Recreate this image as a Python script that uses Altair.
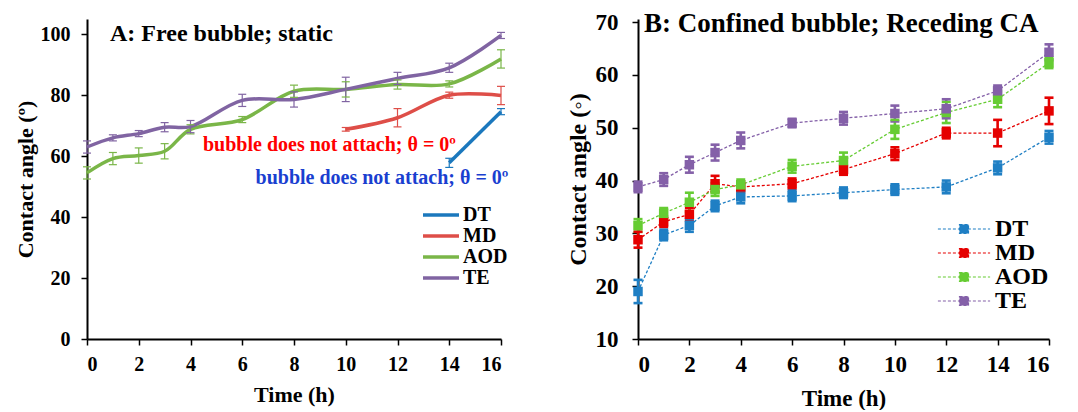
import altair as alt
import pandas as pd

FONT = "Liberation Serif"
series = ["DT", "MD", "AOD", "TE"]
hours = [0, 1, 2, 3, 4, 6, 8, 10, 12, 14, 16]

# ---------- Panel A: free bubble, static ----------
a_dt_hours = [14, 16]
a_dt = [57.8, 74.6]
a_dt_err = [1.5, 1.0]
a_md_hours = [10, 12, 14, 16]
a_md = [68.8, 72.6, 80.0, 79.9]
a_md_err = [0.6, 3.0, 1.0, 3.0]
a_aod = [54.5, 59.2, 60.2, 61.6, 68.8, 72.0, 81.3, 81.9, 83.5, 83.7, 91.9]
a_aod_err = [2.0, 2.0, 2.5, 2.5, 1.5, 1.0, 2.0, 2.5, 1.5, 1.0, 3.0]
a_te = [63.0, 66.0, 67.4, 69.5, 69.7, 78.3, 78.6, 81.9, 85.5, 89.0, 99.6]
a_te_err = [2.0, 1.0, 1.0, 1.5, 2.0, 2.0, 2.5, 4.0, 2.0, 1.5, 1.0]
colors_a = ["#1b78bd", "#de4e48", "#7ab648", "#8064a2"]

# ---------- Panel B: confined bubble, receding CA ----------
b_dt = [19.0, 29.7, 31.5, 35.2, 36.9, 37.1, 37.7, 38.3, 38.8, 42.4, 48.2]
b_dt_err = [2.2, 1.0, 1.2, 1.0, 1.2, 1.0, 1.0, 1.0, 1.2, 1.2, 1.2]
b_md = [28.8, 32.2, 33.6, 39.4, 38.8, 39.4, 42.1, 45.1, 49.0, 49.0, 53.2]
b_md_err = [1.5, 1.0, 1.2, 1.5, 1.0, 1.0, 1.0, 1.2, 1.0, 2.5, 2.5]
b_aod = [31.5, 33.8, 35.9, 38.3, 39.2, 42.7, 43.8, 49.7, 52.9, 55.4, 62.3]
b_aod_err = [1.2, 1.0, 1.8, 1.2, 1.0, 1.2, 1.5, 1.8, 2.0, 1.5, 1.0]
b_te = [38.8, 40.2, 43.0, 45.3, 47.6, 50.9, 51.8, 52.7, 53.6, 57.0, 64.3]
b_te_err = [1.0, 1.2, 1.5, 1.5, 1.5, 0.8, 1.2, 1.5, 1.8, 1.0, 1.5]
colors_b = ["#1f7fc4", "#e50000", "#66cc33", "#8460a8"]

# annotations
title_a = "A: Free bubble; static"
title_b = "B: Confined bubble; Receding CA"
note_text = "bubble does not attach; \u03b8 = 0\u00ba"


def frame(hrs, vals, errs, name):
    return pd.DataFrame({"hour": hrs, "angle": vals, "err": errs, "series": name})


dfa = pd.concat([
    frame(a_dt_hours, a_dt, a_dt_err, "DT"),
    frame(a_md_hours, a_md, a_md_err, "MD"),
    frame(hours, a_aod, a_aod_err, "AOD"),
    frame(hours, a_te, a_te_err, "TE"),
])
dfb = pd.concat([
    frame(hours, b_dt, b_dt_err, "DT"),
    frame(hours, b_md, b_md_err, "MD"),
    frame(hours, b_aod, b_aod_err, "AOD"),
    frame(hours, b_te, b_te_err, "TE"),
])
for d in (dfa, dfb):
    d["lo"] = d["angle"] - d["err"]
    d["hi"] = d["angle"] + d["err"]

notes_a = pd.DataFrame({
    "hour": [9.37, 11.4],
    "angle": [63.6, 52.8],
    "text": [note_text, note_text],
    "c": ["#ff0000", "#1a3fd0"],
})
title_a_df = pd.DataFrame({"hour": [0.89], "angle": [100.1], "text": [title_a]})
title_b_df = pd.DataFrame({"hour": [0.23], "angle": [69.66], "text": [title_b]})

# ---------- Panel A chart ----------
xa = alt.X("hour:Q", scale=alt.Scale(domain=[0, 16], nice=False),
           axis=alt.Axis(title="Time (h)", values=list(range(0, 17, 2)),
                         labelFontSize=20, titleFontSize=22,
                         labelPadding=9, titlePadding=10))
ya_scale = alt.Scale(domain=[0, 105], nice=False)
ya_axis = alt.Axis(title="Contact angle (\u00ba)", values=list(range(0, 101, 20)),
                   labelFontSize=20, titleFontSize=22,
                   labelPadding=11, titlePadding=3)
leg_a = alt.Legend(title=None, orient="none", legendX=343, legendY=185,
                   symbolType="M-2,0H2", symbolSize=324, symbolStrokeWidth=3.5,
                   labelFontSize=20, labelOffset=11, rowPadding=0, padding=0)
col_a = alt.Color("series:N", scale=alt.Scale(domain=series, range=colors_a),
                  sort=series, legend=leg_a)

base_a = alt.Chart(dfa)
lines_a = base_a.mark_line(interpolate="catmull-rom", strokeWidth=3.5).encode(
    x=xa, y=alt.Y("angle:Q", scale=ya_scale, axis=ya_axis), color=col_a,
    detail="series:N")
bars_a = base_a.mark_rule(strokeWidth=1.2).encode(
    x="hour:Q", y="lo:Q", y2="hi:Q", color=col_a)
caps_lo_a = base_a.mark_tick(orient="horizontal", size=8, thickness=1.2, opacity=1).encode(
    x="hour:Q", y="lo:Q", color=col_a)
caps_hi_a = base_a.mark_tick(orient="horizontal", size=8, thickness=1.2, opacity=1).encode(
    x="hour:Q", y="hi:Q", color=col_a)
notes_layer = alt.Chart(notes_a).mark_text(
    font=FONT, fontSize=20, fontWeight="bold", align="center", baseline="middle").encode(
    x="hour:Q", y="angle:Q", text="text:N", color=alt.Color("c:N", scale=None))
title_a_layer = alt.Chart(title_a_df).mark_text(
    font=FONT, fontSize=24, fontWeight="bold", align="left", baseline="middle",
    color="black").encode(x="hour:Q", y="angle:Q", text="text:N")

chart_a = alt.layer(lines_a, bars_a, caps_lo_a, caps_hi_a, notes_layer,
                    title_a_layer).properties(width=414, height=320)

# ---------- Panel B chart ----------
xb = alt.X("hour:Q", scale=alt.Scale(domain=[0, 16], nice=False),
           axis=alt.Axis(title="Time (h)", values=list(range(0, 17, 2)),
                         labelFontSize=23, titleFontSize=23,
                         labelPadding=8, titlePadding=11))
yb_scale = alt.Scale(domain=[10, 70.6], nice=False)
yb_axis = alt.Axis(title="Contact angle (\u25e6)", values=list(range(10, 71, 10)),
                   labelFontSize=23, titleFontSize=24,
                   labelPadding=14, titlePadding=5)
leg_b = alt.Legend(title=None, orient="none", legendX=314, legendY=198,
                   symbolType="M-2.9,0H2.9M-0.5,-0.5H0.5V0.5H-0.5Z",
                   symbolSize=324, symbolStrokeWidth=1.2, symbolDash=[3, 2],
                   labelFontSize=24, labelOffset=19, rowPadding=0, padding=0)
stroke_b = alt.Stroke("series:N", scale=alt.Scale(domain=series, range=colors_b),
                      sort=series, legend=leg_b)
fill_b = alt.Fill("series:N", scale=alt.Scale(domain=series, range=colors_b),
                  sort=series, legend=leg_b)

base_b = alt.Chart(dfb)
lines_b = base_b.mark_line(strokeDash=[3, 2], strokeWidth=1.3).encode(
    x=xb, y=alt.Y("angle:Q", scale=yb_scale, axis=yb_axis), stroke=stroke_b,
    detail="series:N")
bars_b = base_b.mark_rule(strokeWidth=2.6).encode(
    x="hour:Q", y="lo:Q", y2="hi:Q", stroke=stroke_b)
caps_lo_b = base_b.mark_tick(orient="horizontal", size=9, thickness=2.6, opacity=1).encode(
    x="hour:Q", y="lo:Q", fill=fill_b)
caps_hi_b = base_b.mark_tick(orient="horizontal", size=9, thickness=2.6, opacity=1).encode(
    x="hour:Q", y="hi:Q", fill=fill_b)
pts_b = base_b.mark_point(shape="square", filled=True, size=90, opacity=1).encode(
    x="hour:Q", y="angle:Q", fill=fill_b)
title_b_layer = alt.Chart(title_b_df).mark_text(
    font=FONT, fontSize=27, fontWeight="bold", align="left", baseline="middle",
    color="black").encode(x="hour:Q", y="angle:Q", text="text:N")

chart_b = alt.layer(lines_b, bars_b, caps_lo_b, caps_hi_b, pts_b,
                    title_b_layer).properties(width=411, height=320)

chart = alt.hconcat(chart_a, chart_b, spacing=137, bounds="flush").resolve_scale(
    color="independent", stroke="independent", fill="independent"
).resolve_legend(
    color="independent", stroke="independent", fill="independent"
).properties(
    padding={"left": 6, "top": 1, "right": 0, "bottom": 0}
).configure_view(stroke=None).configure_axis(
    grid=False, domainColor="black", domainWidth=2, tickColor="black",
    tickWidth=1.5, tickSize=6, labelFont=FONT, titleFont=FONT,
    labelFontWeight="bold", titleFontWeight="bold", labelColor="black",
    titleColor="black"
).configure_legend(
    labelFont=FONT, labelFontWeight="bold", labelColor="black"
)

chart.save("out.html", embed_options={"renderer": "svg", "actions": False})
